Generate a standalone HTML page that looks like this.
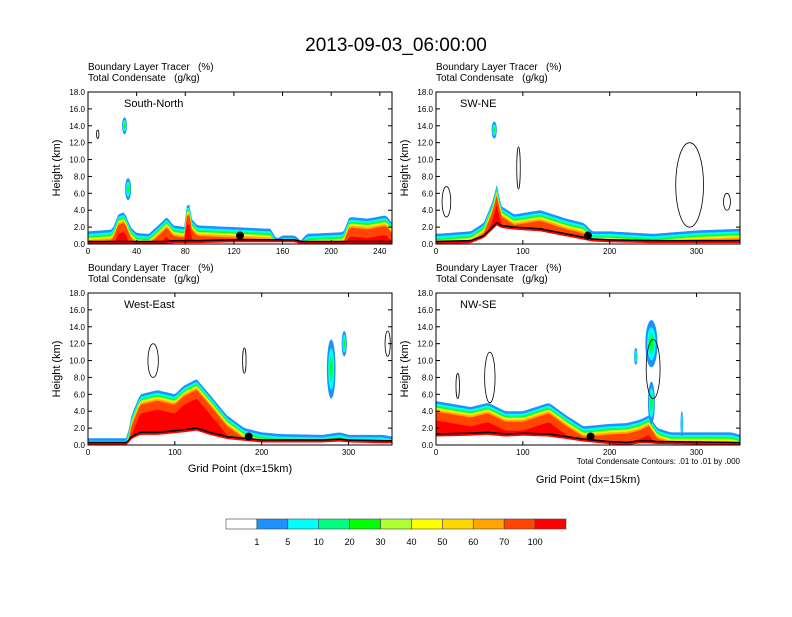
<!DOCTYPE html>
<html><head><meta charset="utf-8"><style>
body{margin:0;background:#fff;font-family:"Liberation Sans",sans-serif}
svg text{font-family:"Liberation Sans",sans-serif;white-space:pre}
</style></head><body>
<svg id="s" width="792" height="612" viewBox="0 0 792 612">
<text x="396" y="51" text-anchor="middle" font-size="19">2013-09-03_06:00:00</text>
</svg>
<script>
// ---- data ----
const panelNames = ["South-North","SW-NE","West-East","NW-SE"];
const xMaxes = [250,350,350,350];
const xTicks = [[0,40,80,120,160,200,240],[0,100,200,300],[0,100,200,300],[0,100,200,300]];
const yTicks = [0,2,4,6,8,10,12,14,16,18];
const p1X = [0,10,20,25,30,35,40,50,60,65,70,80,82,85,90,120,150,155,160,170,175,180,210,215,230,245,250];
const p1Top = [1.5,1.6,1.7,3.5,3.8,2,1.3,1.2,2.5,3.2,2.2,2.0,6,3,2.2,2.0,1.8,0.6,1.0,1.0,0.4,1.2,1.4,3.2,3.0,3.4,2.5];
const p1Sfc = [0.3,0.3,0.3,0.3,0.3,0.3,0.3,0.3,0.3,0.3,0.4,0.4,0.4,0.4,0.4,0.5,0.5,0.5,0.5,0.5,0.3,0.3,0.3,0.3,0.3,0.3,0.3];
const p2X = [0,40,55,65,70,75,90,120,150,170,180,200,250,300,350];
const p2Top = [1.2,1.5,2.5,5,7,4.5,3.5,4,3,2.5,1.5,1.5,1.2,1.6,1.8];
const p2Sfc = [0.3,0.4,1.0,2.0,2.5,2.2,2.0,1.8,1.2,0.8,0.6,0.5,0.4,0.4,0.4];
const p3X = [0,45,50,60,80,100,110,125,140,160,180,200,220,270,290,300,340,350];
const p3Top = [0.8,0.8,3.5,6,6.5,6,7,7.8,6,3.5,2,1.5,1.3,1.2,1.5,1.2,1.2,1];
const p3Sfc = [0.3,0.3,1.0,1.5,1.5,1.7,1.8,2.0,1.5,1.0,0.8,0.6,0.6,0.6,0.7,0.6,0.5,0.5];
const p4X = [0,40,60,80,100,130,150,170,200,220,235,245,255,270,340,350];
const p4Top = [5.2,4.5,5,4,4,5,3.5,2.2,2.5,2.6,3,3.5,2,1.5,1.5,1.2];
const p4Sfc = [1.3,1.4,1.5,1.3,1.4,1.3,1.0,0.7,0.4,0.3,0.5,0.5,0.4,0.4,0.3,0.3];
const pX=[p1X,p2X,p3X,p4X], pTop=[p1Top,p2Top,p3Top,p4Top], pSfc=[p1Sfc,p2Sfc,p3Sfc,p4Sfc];
const blobs = [[[30,14,2,1.0],[33,6.5,2.5,1.3]],[[67,13.5,3,1.0]],[[280,9,5,3.5],[295,12,3,1.5]],[[230,10.5,2,1],[248,12,7,2.8],[248,5,4,2.5],[283,2.5,1.5,1.5]]];
const contours = [[[8,13,1,0.5]],[[12,5,5,1.8],[95,9,2,2.5],[292,7,16,5],[335,5,4,1]],[[75,10,6,2],[180,10,2,1.5],[345,12,3,1.5]],[[25,7,2,1.5],[62,8,6,3],[250,9,8,3.5]]];
const barLabels = ["1","5","10","20","30","40","50","60","70","100"];
const colors = ["#ffffff","#1e90ff","#00ffff","#00ff80","#00ff00","#adff2f","#ffff00","#ffd700","#ffa500","#ff4500","#ff0000"];
const bandOff = [0,0.3,0.5,0.65,0.75,0.85,0.95,1.05,1.25,2.3];
// ---- drawing ----
const NS="http://www.w3.org/2000/svg", S=document.getElementById('s');
function mk(t,a,p){const e=document.createElementNS(NS,t);for(const k in a)e.setAttribute(k,a[k]);(p||S).appendChild(e);return e;}
const boxes=[[88,92],[436,92],[88,293],[436,293]], W=304, H=152;
function interp(xs,ys,x){for(let i=0;i<xs.length-1;i++){if(x>=xs[i]&&x<=xs[i+1]){const t=(x-xs[i])/(xs[i+1]-xs[i]||1);return ys[i]+t*(ys[i+1]-ys[i]);}}return ys[ys.length-1];}
for(let p=0;p<4;p++){
  const [bx,by]=boxes[p], xm=xMaxes[p];
  const sx=v=>bx+v/xm*W, sy=v=>by+H-v/18*H;
  const g=mk('g',{});
  
  
  let t=mk('text',{x:bx,y:by-22,'font-size':10},g);t.textContent='Boundary Layer Tracer   (%)';
  
  t=mk('text',{x:bx,y:by-11,'font-size':10},g);t.textContent='Total Condensate   (g/kg)';
  
  const N=120;
  for(let k=0;k<bandOff.length;k++){
    let top=[],bot=[];
    for(let i=0;i<=N;i++){const x=i/N*xm;const s=interp(pX[p],pSfc[p],x);let h=interp(pX[p],pTop[p],x)-bandOff[k];if(h<s)h=s;top.push(sx(x)+','+sy(h));bot.unshift(sx(x)+','+sy(0));}
    const pg=mk('polygon',{points:top.concat(bot).join(' '),fill:colors[k+1]},g);
    
  }
  for(const b of blobs[p]){
    [[1,1],[2,0.7],[3,0.45],[4,0.25]].forEach(([c,f])=>{const e=mk('ellipse',{cx:sx(b[0]),cy:sy(b[1]),rx:b[2]/xm*W*f,ry:b[3]/18*H*f,fill:colors[c]},g);
    });
  }
  let sp=[];for(let i=0;i<=N;i++){const x=i/N*xm;sp.push(sx(x)+','+sy(interp(pX[p],pSfc[p],x)));}
  const sl=mk('polyline',{points:sp.join(' '),fill:'none',stroke:'#000','stroke-width':1.5},g);
  
  let wp=[sx(0)+','+sy(0)];for(let i=0;i<=N;i++){const x=i/N*xm;wp.push(sx(x)+','+sy(interp(pX[p],pSfc[p],x)-0.3));}wp.push(sx(xm)+','+sy(0));
  mk('polygon',{points:wp.join(' '),fill:'#fff'},g);
  for(const c of contours[p]){const e=mk('ellipse',{cx:sx(c[0]),cy:sy(c[1]),rx:c[2]/xm*W,ry:c[3]/18*H,fill:'none',stroke:'#000','stroke-width':0.8},g);
    }
  const dot=mk('circle',{cx:sx(p==0?125:p==1?175:p==2?185:178),cy:sy(1),r:4,fill:'#000'},g);
  
  mk('rect',{x:bx,y:by,width:W,height:H,fill:'none',stroke:'#000','stroke-width':1},g);
  for(const v of xTicks[p]){mk('line',{x1:sx(v),x2:sx(v),y1:by+H,y2:by+H-4,stroke:'#000'},g);mk('line',{x1:sx(v),x2:sx(v),y1:by,y2:by+4,stroke:'#000'},g);
    const tl=mk('text',{x:sx(v),y:by+H+10,'font-size':8,'text-anchor':'middle'},g);tl.textContent=v;
    }
  for(const v of yTicks){mk('line',{x1:bx,x2:bx+4,y1:sy(v),y2:sy(v),stroke:'#000'},g);mk('line',{x1:bx+W,x2:bx+W-4,y1:sy(v),y2:sy(v),stroke:'#000'},g);
    const tl=mk('text',{x:bx-3,y:sy(v)+3,'font-size':8,'text-anchor':'end'},g);tl.textContent=v.toFixed(1);
    }
  t=mk('text',{x:bx+(p%2==0?36:24),y:by+15,'font-size':11},g);t.textContent=panelNames[p];
  
  t=mk('text',{x:0,y:0,'font-size':11,'text-anchor':'middle',transform:`translate(${bx-28},${by+H/2}) rotate(-90)`},g);t.textContent='Height (km)';
  
}
let t=mk('text',{x:240,y:472,'font-size':11,'text-anchor':'middle'});t.textContent='Grid Point (dx=15km)';

t=mk('text',{x:588,y:483,'font-size':11,'text-anchor':'middle'});t.textContent='Grid Point (dx=15km)';

t=mk('text',{x:740,y:464,'font-size':8,'text-anchor':'end'});t.textContent='Total Condensate Contours: .01 to .01 by .000';

const cbx=226,cbw=340/colors.length;
for(let i=0;i<colors.length;i++){const r=mk('rect',{x:cbx+i*cbw,y:519,width:cbw,height:10,fill:colors[i],stroke:'#444','stroke-width':0.6});
  }
for(let i=0;i<barLabels.length;i++){const l=mk('text',{x:cbx+(i+1)*cbw,y:545,'font-size':9,'text-anchor':'middle'});l.textContent=barLabels[i];
  }
</script>
</body></html>
